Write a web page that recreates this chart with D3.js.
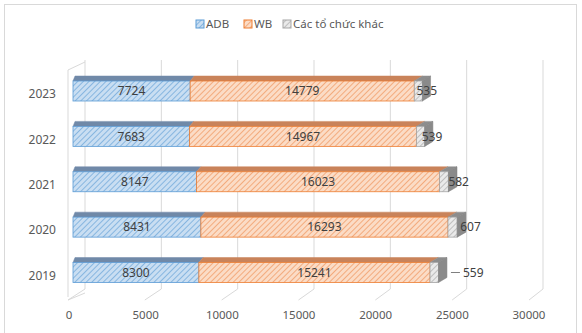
<!DOCTYPE html>
<html><head><meta charset="utf-8">
<script src="https://cdn.jsdelivr.net/npm/d3@7/dist/d3.min.js"></script>
<style>body{margin:0;background:#fff}svg{display:block}text{font-family:"Noto Sans",sans-serif}</style>
</head><body><svg id="c" width="582" height="333"></svg>
<script>
const years = ["2023","2022","2021","2020","2019"];
const seriesNames = ["ADB","WB","Các tổ chức khác"];
const adb = [7724,7683,8147,8431,8300];
const wb = [14779,14967,16023,16293,15241];
const other = [535,539,582,607,559];
const ticks = [0,5000,10000,15000,20000,25000,30000];

const svg = d3.select("#c");
const defs = svg.append("defs");
const styles = [
  {bg:"#c9def2", line:"#5b9bd5", edge:"#5b9bd5", top:"#7089a8", side:"#5f86b3"},
  {bg:"#fbdcc6", line:"#ee8a4d", edge:"#ed7d31", top:"#c9835a", side:"#d77a40"},
  {bg:"#eaeaea", line:"#a0a0a0", edge:"#a5a5a5", top:"#8d8d8d", side:"#8a8a8a"}
];
styles.forEach((s,i)=>{
  const p = defs.append("pattern").attr("id","h"+i).attr("patternUnits","userSpaceOnUse")
    .attr("width",4).attr("height",4).attr("patternTransform","rotate(45)");
  p.append("rect").attr("width",4).attr("height",4).attr("fill",s.bg);
  p.append("line").attr("x1",0).attr("y1",0).attr("x2",0).attr("y2",4).attr("stroke",s.line).attr("stroke-width",1.2);
});

// frame
svg.append("rect").attr("x",4.5).attr("y",4.5).attr("width",572).attr("height",330)
  .attr("fill","none").attr("stroke","#d9d9d9");

// scales
const xBack = d3.scaleLinear().domain([0,30000]).range([85,543]);
const xFloor = d3.scaleLinear().domain([0,30000]).range([68,529]);
const xLabel = d3.scaleLinear().domain([0,30000]).range([69,529]);
const xFront = d3.scaleLinear().domain([0,30000]).range([73,528]);
const xTopBack = d3.scaleLinear().domain([0,30000]).range([75,538]);
const yC = d3.scalePoint().domain(years).range([91,272.5]);
const barH = 20, depthY = 5;
const wallTop = 60, floorBack = 289, floorFront = 300;

// gridlines
const g = svg.append("g").attr("stroke","#d9d9d9").attr("fill","none").attr("stroke-width",1);
ticks.forEach(t=>{
  g.append("polyline").attr("points",[[xBack(t),wallTop],[xBack(t),floorBack],[xFloor(t),floorFront]].join(" "));
});
// left side wall
g.append("polyline").attr("points",[[xBack(0),wallTop+2],[xFloor(0),wallTop+10],[xFloor(0),floorFront-3]].join(" "));
g.append("line").attr("x1",xBack(0)).attr("y1",floorBack+4).attr("x2",xFloor(0)).attr("y2",floorFront);

// x tick labels
svg.append("g").selectAll("text").data(ticks).join("text")
  .attr("x",d=>xLabel(d)).attr("y",319).attr("text-anchor","middle")
  .attr("font-size",11.5).attr("fill","#595959").text(d=>d);

// y labels
svg.append("g").selectAll("text").data(years).join("text")
  .attr("x",56).attr("y",d=>yC(d)+3).attr("dy","0.35em").attr("text-anchor","end")
  .attr("font-size",12).attr("fill","#595959").text(d=>d);

// bars
const stacks = years.map((y,i)=>{
  const vals=[adb[i],wb[i],other[i]]; let c=0;
  return vals.map((v,k)=>{const s={year:y,k,v,x0:c,x1:c+v}; c+=v; return s;});
});
const bars = svg.append("g");
stacks.forEach((segs,i)=>{
  const cy = yC(years[i]), yt = cy-barH/2, yb = cy+barH/2;
  segs.forEach(s=>{
    const st = styles[s.k];
    bars.append("polygon").attr("points",[[xFront(s.x0),yt],[xTopBack(s.x0),yt-depthY],[xTopBack(s.x1),yt-depthY],[xFront(s.x1),yt]].join(" "))
      .attr("fill",st.top).attr("stroke",st.top).attr("stroke-width",0.5);
    bars.append("rect").attr("x",xFront(s.x0)).attr("y",yt).attr("width",xFront(s.x1)-xFront(s.x0)).attr("height",barH)
      .attr("fill","url(#h"+s.k+")").attr("stroke",st.edge).attr("stroke-width",0.8);
  });
  const last = segs[2], T = last.x1;
  bars.append("polygon").attr("points",[[xFront(T),yt],[xTopBack(T),yt-depthY],[xTopBack(T),yb-depthY],[xFront(T),yb]].join(" "))
    .attr("fill",styles[2].side).attr("stroke","#7f7f7f").attr("stroke-width",0.5);
  [0,1].forEach(k=>{
    const s=segs[k];
    bars.append("text").attr("x",(xFront(s.x0)+xFront(s.x1))/2).attr("y",cy).attr("dy","0.35em")
      .attr("text-anchor","middle").attr("font-size",12).attr("fill","#404040").text(s.v);
  });
  const leader = years[i]==="2019";
  const lx = leader ? xTopBack(T)+16 : xFront(T)+ (i*3-6);
  if(leader){
    bars.append("line").attr("x1",xTopBack(T)+4).attr("x2",lx-3).attr("y1",cy).attr("y2",cy).attr("stroke","#7f7f7f");
  }
  bars.append("text").attr("x",lx).attr("y",cy).attr("dy","0.35em").attr("font-size",12).attr("fill","#404040").text(last.v);
});

// legend
const leg = svg.append("g").attr("font-size",11.5).attr("fill","#595959");
const legX = [196,244,283];
seriesNames.forEach((n,k)=>{
  leg.append("rect").attr("x",legX[k]).attr("y",20).attr("width",8).attr("height",8)
    .attr("fill","url(#h"+k+")").attr("stroke",styles[k].edge).attr("stroke-width",1);
  leg.append("text").attr("x",legX[k]+10).attr("y",24).attr("dy","0.35em").text(n);
});
</script></body></html>
